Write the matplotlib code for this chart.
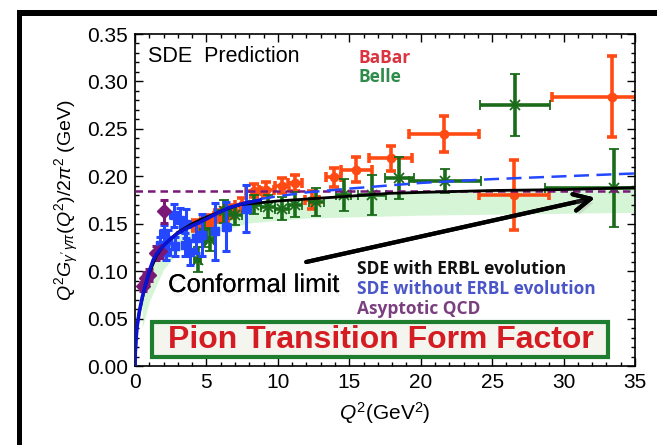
import matplotlib
matplotlib.use("Agg")
import matplotlib.pyplot as plt
import matplotlib.patheffects as pe
from matplotlib.patches import Rectangle, FancyBboxPatch
from matplotlib.ticker import MultipleLocator

plt.rcParams['font.family'] = ['Liberation Sans', 'DejaVu Sans']
plt.rcParams['mathtext.fontset'] = 'custom'
plt.rcParams['mathtext.rm'] = 'Liberation Sans'
plt.rcParams['mathtext.it'] = 'Liberation Sans:italic'

# CELLO (purple diamonds)
cello_q2 = [0.55, 0.75, 1.0, 1.5, 1.75, 2.05]
cello_f = [0.084, 0.093, 0.096, 0.119, 0.121, 0.163]
cello_err = [0.005, 0.006, 0.006, 0.007, 0.007, 0.012]

# CLEO (blue squares)
cleo_q2 = [1.75, 2.0, 2.2, 2.3, 2.7, 2.8, 3.15, 3.5, 3.6, 3.85, 4.3, 4.7, 5.6, 6.4, 7.8]
cleo_f = [0.128, 0.140, 0.120, 0.133, 0.159, 0.126, 0.154, 0.128, 0.150, 0.120, 0.135, 0.138, 0.142, 0.147, 0.166]
cleo_err = [0.008, 0.009, 0.008, 0.010, 0.012, 0.010, 0.013, 0.012, 0.015, 0.013, 0.016, 0.022, 0.030, 0.026, 0.025]

# BaBar (red)
babar_q2 = [4.3, 4.8, 5.3, 5.8, 6.3, 6.8, 7.5, 8.3, 9.2, 10.3, 11.2, 12.4, 13.9, 15.5, 17.9, 21.6, 26.5, 33.4]
babar_f = [0.148, 0.150, 0.153, 0.158, 0.160, 0.163, 0.170, 0.185, 0.186, 0.190, 0.193, 0.175, 0.199, 0.207, 0.219, 0.245, 0.180, 0.284]
babar_yerr = [0.006, 0.006, 0.006, 0.006, 0.007, 0.007, 0.007, 0.007, 0.008, 0.008, 0.008, 0.010, 0.010, 0.013, 0.013, 0.019, 0.037, 0.043]
babar_xerr = [0.25, 0.25, 0.25, 0.25, 0.25, 0.25, 0.5, 0.5, 0.5, 0.5, 0.5, 0.5, 0.5, 1.1, 1.5, 2.45, 2.45, 4.2]

# Belle (green)
belle_q2 = [4.4, 4.8, 5.25, 6.2, 7.0, 8.3, 9.3, 10.3, 11.2, 12.7, 14.6, 16.6, 18.5, 21.7, 26.6, 33.5]
belle_f = [0.112, 0.140, 0.133, 0.163, 0.159, 0.170, 0.168, 0.166, 0.170, 0.173, 0.180, 0.180, 0.198, 0.195, 0.275, 0.188]
belle_yerr = [0.013, 0.015, 0.012, 0.012, 0.010, 0.010, 0.012, 0.012, 0.013, 0.015, 0.017, 0.021, 0.022, 0.013, 0.033, 0.041]
belle_xerr = [0.25, 0.25, 0.25, 0.5, 0.5, 0.5, 0.5, 0.5, 0.5, 0.5, 0.5, 1.0, 1.0, 2.5, 2.45, 4.8]

# SDE curves
low_q2 = [0, 0.02, 0.08, 0.15, 0.3, 0.5, 0.7, 1.0, 1.28, 1.6, 2.0, 2.5, 3.0, 3.6, 4.3, 5.0, 5.5, 6.0, 6.6, 7.5, 8.75]
blue_low = [0, 0.015, 0.030, 0.042, 0.057, 0.072, 0.084, 0.100, 0.112, 0.120, 0.127, 0.134, 0.140, 0.145, 0.150, 0.155, 0.159, 0.163, 0.167, 0.171, 0.175]
high_q2 = [8.75, 10, 12, 15, 20, 25, 30, 35]
blue_high = [0.176, 0.179, 0.183, 0.187, 0.193, 0.197, 0.200, 0.203]
black_q2 = [0, 0.1, 0.3, 0.7, 1.0, 1.5, 2.0, 3.0, 4.0, 5.0, 6.0, 7.3, 8.0, 10, 15, 17.8, 20, 25, 30, 35]
black_f = [0, 0.038, 0.057, 0.083, 0.098, 0.116, 0.127, 0.141, 0.150, 0.157, 0.163, 0.170, 0.171, 0.174, 0.179, 0.182, 0.183, 0.185, 0.186, 0.188]
band_q2 = [0.5, 1, 2, 3, 5, 8, 12, 20, 35]
band_lo = [0.040, 0.068, 0.102, 0.120, 0.138, 0.151, 0.156, 0.159, 0.162]
band_hi = [0.072, 0.098, 0.127, 0.141, 0.157, 0.171, 0.177, 0.183, 0.186]
asym_f = 0.185

red = '#ff4a14'
green = '#1a6b1a'
blue = '#2448ff'
purple = '#7a1878'

fig = plt.figure(figsize=(6.57, 4.45), dpi=100)
ax = fig.add_axes([135 / 657, 1 - 366 / 445, 500 / 657, 332 / 445])

ax.fill_between(band_q2, band_lo, band_hi, color='#d6f5d6', lw=0, zorder=1)

ax.errorbar(cleo_q2, cleo_f, yerr=cleo_err, xerr=0.22, fmt='s', ms=6, color=blue,
            elinewidth=2.2, capsize=3, capthick=2.2, zorder=3)
ax.errorbar(cello_q2, cello_f, yerr=cello_err, xerr=0.12, fmt='D', ms=7, color=purple,
            elinewidth=2.2, capsize=3, capthick=2.2, zorder=3)
ax.errorbar(babar_q2, babar_f, yerr=babar_yerr, xerr=babar_xerr, fmt='o', ms=6, color=red,
            elinewidth=2.6, capsize=3.5, capthick=2.6, zorder=2)
ax.errorbar(belle_q2, belle_f, yerr=belle_yerr, xerr=belle_xerr, fmt='x', ms=7, mew=1.3, color=green,
            elinewidth=2.6, capsize=3.5, capthick=2.6, zorder=2.5)

ax.axhline(asym_f, color=purple, lw=1.8, dashes=(3, 2), zorder=4)
ax.plot(high_q2, blue_high, color=blue, lw=1.8, dashes=(6, 3), zorder=4)
ax.plot(black_q2, black_f, color='black', lw=2, zorder=4)
ax.plot(low_q2, blue_low, color='#0a14d0', lw=2.6, zorder=5)

ax.annotate('', xy=(32.4, 0.178), xytext=(11.8, 0.109),
            arrowprops=dict(arrowstyle='->', lw=3, color='black', mutation_scale=30,
                            path_effects=[pe.withSimplePatchShadow(offset=(2, -3), shadow_rgbFace='gray', alpha=0.2), pe.Normal()]),
            zorder=6)

ax.set_xlim(0, 35)
ax.set_ylim(0, 0.35)
ax.xaxis.set_major_locator(MultipleLocator(5))
ax.xaxis.set_minor_locator(MultipleLocator(1))
ax.yaxis.set_major_locator(MultipleLocator(0.05))
ax.yaxis.set_minor_locator(MultipleLocator(0.01))
ax.set_yticks([0, 0.05, 0.1, 0.15, 0.2, 0.25, 0.3, 0.35])
ax.set_yticklabels(['0.00', '0.05', '0.10', '0.15', '0.20', '0.25', '0.30', '0.35'])
ax.tick_params(which='both', direction='in', top=True, right=True, labelsize=15, width=1)
ax.tick_params(which='major', length=6, pad=5)
ax.tick_params(which='minor', length=3)
for s in ax.spines.values():
    s.set_linewidth(1.2)

ax.set_xlabel(r'$Q^2$(GeV$^2$)', fontsize=15, labelpad=6)
ax.set_ylabel(r'$Q^2G_{\gamma^{\prime}\,\gamma\pi}(Q^2)/2\pi^2$ (GeV)', fontsize=14, labelpad=4)

def px(x, y):
    return x / 657, 1 - y / 445

fig.text(*px(148, 57), 'SDE  Prediction', fontsize=15.5, va='center', ha='left')
fig.text(*px(358, 58), 'BaBar', fontsize=12.5, fontweight='bold', color='#d9343f',
         va='center', family=['Open Sans', 'DejaVu Sans'])
fig.text(*px(358, 77), 'Belle', fontsize=12.5, fontweight='bold', color='#2e8b4a',
         va='center', family=['Open Sans', 'DejaVu Sans'])
fig.text(*px(168, 285), 'Conformal limit', fontsize=18.5, va='center', ha='left',
         path_effects=[pe.withSimplePatchShadow(offset=(1.5, -3), shadow_rgbFace='#bbbbbb', alpha=0.15), pe.Normal()])

leg_lines = ['SDE with ERBL evolution', 'SDE without ERBL evolution', 'Asyptotic QCD']
leg_colors = ['#111111', '#4a55c8', '#7b3f7f']
for i, (t, c) in enumerate(zip(leg_lines, leg_colors)):
    fig.text(*px(357, 269 + 20 * i), t, fontsize=12.5, fontweight='bold', color=c,
             va='center', family=['Open Sans', 'DejaVu Sans'])

box = FancyBboxPatch(px(152, 357), 456 / 657, 35 / 445, boxstyle='square,pad=0',
                     transform=fig.transFigure, facecolor='#f3f5ee', edgecolor='#1e7d2e', lw=3, zorder=7)
fig.patches.append(box)
fig.text(*px(381, 340), 'Pion Transition Form Factor', fontsize=23, fontweight='bold',
         color='#d41c22', ha='center', va='center', zorder=8)

# black frame at left and top
fig.patches.append(Rectangle(px(17, 445), 5 / 657, 435 / 445, transform=fig.transFigure,
                             facecolor='black', edgecolor='none'))
fig.patches.append(Rectangle(px(17, 16), 640 / 657, 6 / 445, transform=fig.transFigure,
                             facecolor='black', edgecolor='none'))

fig.savefig('out.png', dpi=100)
